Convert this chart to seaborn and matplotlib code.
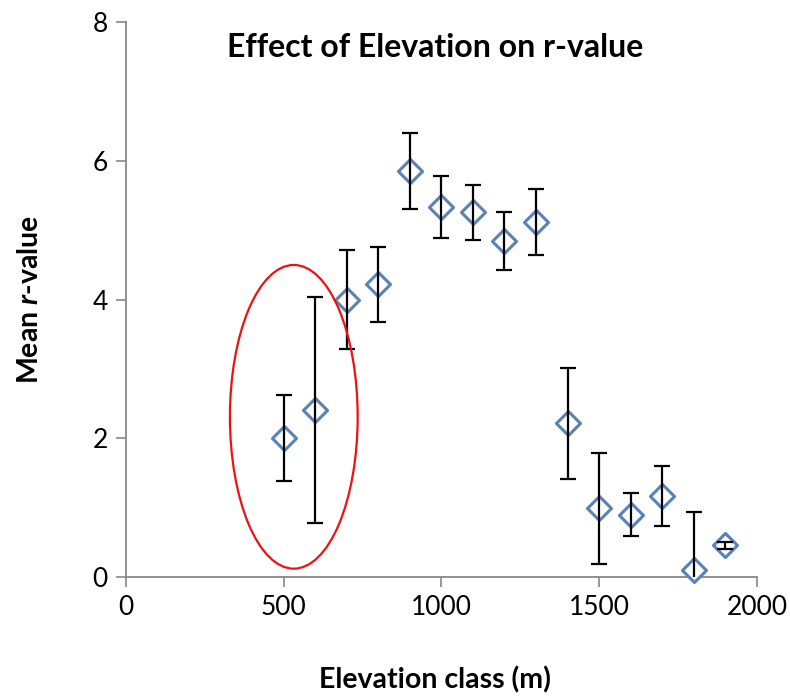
import matplotlib
matplotlib.use("Agg")
import matplotlib.pyplot as plt
import seaborn as sns
import pandas as pd
import numpy as np
from matplotlib.patches import Ellipse

elevation = [500, 600, 700, 800, 900, 1000, 1100, 1200, 1300, 1400, 1500, 1600, 1700, 1800, 1900]
mean_r = [2.0, 2.41, 4.0, 4.22, 5.85, 5.34, 5.26, 4.85, 5.12, 2.22, 0.99, 0.90, 1.17, 0.10, 0.46]
err_r = [0.62, 1.63, 0.71, 0.54, 0.55, 0.45, 0.40, 0.42, 0.48, 0.80, 0.80, 0.31, 0.43, 0.84, 0.05]
x_ticks = [0, 500, 1000, 1500, 2000]
y_ticks = [0, 2, 4, 6, 8]

df = pd.DataFrame({"elev": elevation, "r": mean_r, "err": err_r})

sns.set_style("white")
plt.rcParams["font.family"] = ["Lato", "DejaVu Sans"]
plt.rcParams["mathtext.fontset"] = "custom"
plt.rcParams["mathtext.it"] = "Lato:italic:bold"
plt.rcParams["mathtext.rm"] = "Lato:bold"
plt.rcParams["text.color"] = "black"
plt.rcParams["axes.labelcolor"] = "black"
plt.rcParams["xtick.color"] = "black"
plt.rcParams["ytick.color"] = "black"

fig = plt.figure(figsize=(7.9, 6.96), dpi=100)
ax = fig.add_axes([0.1595, 0.171, 0.7985, 0.797])

sns.scatterplot(data=df, x="elev", y="r", marker="D", s=150, facecolor="white",
                edgecolor="#5b82b5", linewidth=2.2, ax=ax, zorder=3, clip_on=False)
ax.errorbar(df["elev"], df["r"], yerr=df["err"], fmt="none", ecolor="black",
            elinewidth=1.6, capsize=6, capthick=1.6, zorder=4)

ell = Ellipse((532, 2.31), width=405, height=4.38, fill=False, edgecolor="#ee1111",
              linewidth=1.6, zorder=5)
ax.add_patch(ell)

ax.set_xlim(0, 2000)
ax.set_ylim(0, 8)
ax.set_xticks(x_ticks)
ax.set_yticks(y_ticks)
ax.tick_params(axis="both", labelsize=19, length=7, width=1.2, color="#888888",
               labelcolor="black", direction="out", bottom=True, left=True, pad=6)
for side in ["top", "right"]:
    ax.spines[side].set_visible(False)
for side in ["left", "bottom"]:
    ax.spines[side].set_color("#888888")
    ax.spines[side].set_linewidth(1.3)

ax.set_xlabel("Elevation class (m)", fontsize=20.5, fontweight="bold", va="center")
ax.xaxis.set_label_coords(0.49, -0.186)
ax.set_ylabel(r"Mean $\mathit{r}$-value", fontsize=20.5, fontweight="bold", va="center")
ax.yaxis.set_label_coords(-0.152, 0.5)
ax.text(0.49, 0.955, "Effect of Elevation on r-value", transform=ax.transAxes,
        ha="center", va="center", fontsize=23, fontweight="bold")

fig.savefig("out.png", dpi=100)
